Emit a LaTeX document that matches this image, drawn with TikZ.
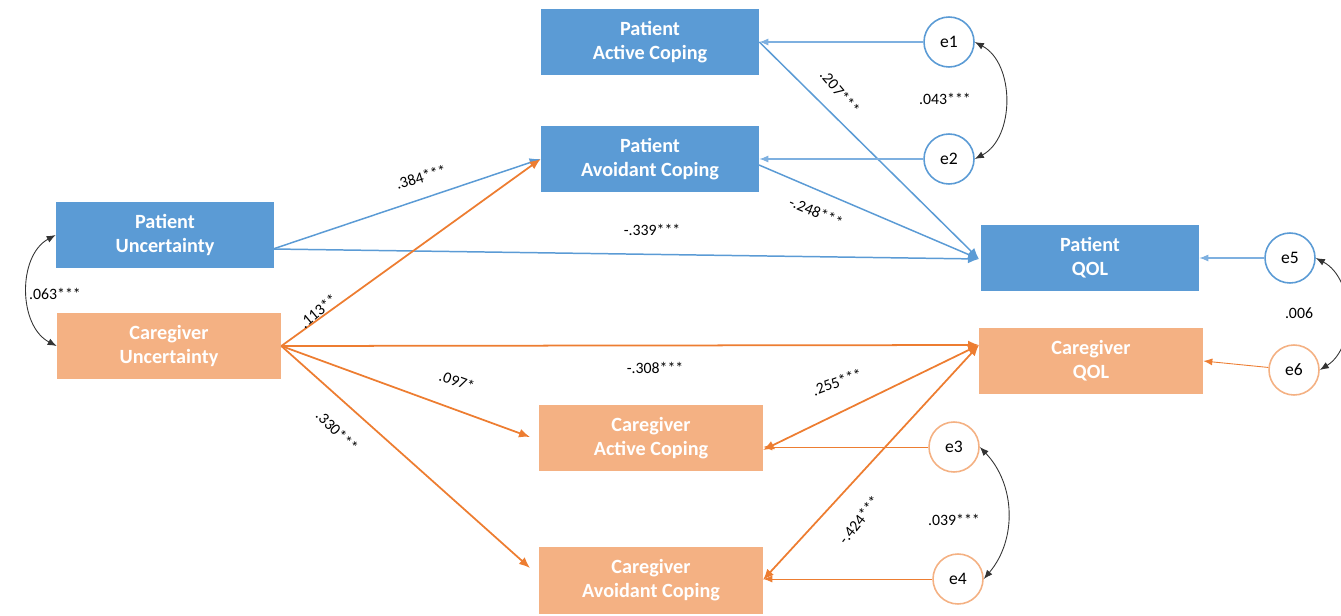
\documentclass[tikz,border=0pt]{standalone}
\usepackage{fontspec}
\setmainfont{Carlito}
\usetikzlibrary{arrows.meta}
\definecolor{pblue}{HTML}{5B9BD5}
\definecolor{pblueL}{HTML}{7EB0E0}
\definecolor{corange}{HTML}{F4B183}
\definecolor{cline}{HTML}{ED7D31}
\tikzset{
  pbox/.style={rectangle, fill=pblue, text=white, font=\fontsize{11.5}{13.6}\selectfont\bfseries, align=center, minimum width=4.36cm, minimum height=1.34cm, inner sep=0pt},
  cbox/.style={pbox, fill=corange},
  perr/.style={circle, draw=pblue, line width=0.9pt, fill=white, minimum size=1cm, inner sep=0pt, font=\fontsize{10}{12}\selectfont},
  cerr/.style={perr, draw=corange},
  bpath/.style={draw=pblue, line width=0.85pt, -{Latex[length=2.2mm,width=1.8mm]}},
  opath/.style={draw=cline, line width=1pt, -{Latex[length=2.2mm,width=1.8mm]}},
  obpath/.style={draw=cline, line width=1pt, {Latex[length=2.2mm,width=1.8mm]}-{Latex[length=2.2mm,width=1.8mm]}},
  berr/.style={draw=pblueL, line width=0.6pt, -{Latex[length=1.8mm,width=1.4mm]}},
  oerr/.style={draw=cline, line width=0.5pt, -{Latex[length=1.8mm,width=1.4mm]}},
  cov/.style={draw=black!80, line width=0.5pt, {Latex[length=1.8mm,width=1.4mm]}-{Latex[length=1.8mm,width=1.4mm]}},
  lab/.style={font=\fontsize{9}{11}\selectfont, inner sep=0pt}
}
\begin{document}
\begin{tikzpicture}[x=0.02cm, y=-0.02cm]
\useasboundingbox (0,0) rectangle (1341,615);
% boxes
\node[pbox] (PAC) at (650,42) {Patient\\Active Coping};
\node[pbox] (PAV) at (650,159) {Patient\\Avoidant Coping};
\node[pbox] (PU) at (165,235) {Patient\\Uncertainty};
\node[cbox, minimum width=4.48cm] (CU) at (169,346) {Caregiver\\Uncertainty};
\node[pbox] (PQ) at (1090,258) {Patient\\QOL};
\node[cbox, minimum width=4.48cm] (CQ) at (1091,361) {Caregiver\\QOL};
\node[cbox, minimum width=4.48cm] (CAC) at (651,438) {Caregiver\\Active Coping};
\node[cbox, minimum width=4.48cm] (CAV) at (651,580) {Caregiver\\Avoidant Coping};
% error terms
\node[perr] (e1) at (949,42) {e1};
\node[perr] (e2) at (949,159) {e2};
\node[perr] (e5) at (1290,258) {e5};
\node[cerr] (e6) at (1294,370) {e6};
\node[cerr] (e3) at (954,447) {e3};
\node[cerr] (e4) at (958,579) {e4};
% anchor coordinates
\coordinate (pus) at (273,249);
\coordinate (pqw) at (979,259);
\coordinate (cqw) at (979,345);
\coordinate (pavs) at (759,165);
\coordinate (cacw) at (530,437);
\coordinate (cavw) at (530,568);
\coordinate (cace) at (763,450);
\coordinate (cave) at (763,580);
% patient paths
\draw[bpath] (pus) -- (PAV.west);
\draw[bpath] (pus) -- (pqw);
\draw[bpath] (PAC.east) -- (pqw);
\draw[bpath] (pavs) -- (pqw);
% caregiver paths
\draw[opath] (CU.east) -- (PAV.west);
\draw[opath] (CU.east) -- (cqw);
\draw[opath] (CU.east) -- (cacw);
\draw[opath] (CU.east) -- (cavw);
\draw[obpath] (cace) -- (cqw);
\draw[obpath] (cave) -- (cqw);
% error arrows
\draw[berr] (e1) -- (PAC.east);
\draw[berr] (e2) -- (PAV.east);
\draw[berr] (e5) -- (PQ.east);
\draw[oerr] (e6) -- (CQ.east);
\draw[oerr] (e3) -- (CAC.east |- e3);
\draw[oerr] (e4) -- (CAV.east |- e4);
% covariances
\draw[cov] (e1.east) to[bend left=62] (e2.east);
\draw[cov] (e3.east) to[bend left=42] (e4.east);
\draw[cov] (e5.east) to[bend left=60] (e6.east);
\draw[cov] (PU.west) to[bend right=62] (CU.west);
% labels
\node[lab, rotate=-50] (l1) at (840,92) {.207***};
\node[lab] (l2) at (945,99) {.043***};
\node[lab, rotate=17] (l3) at (421,177) {.384***};
\node[lab, rotate=-23] (l4) at (816,212) {-.248***};
\node[lab] (l5) at (652,230) {-.339***};
\node[lab] (l6) at (55,294) {.063***};
\node[lab, rotate=40] (l7) at (318,311) {.113**};
\node[lab] (l8) at (1299,313) {.006};
\node[lab] (l9) at (655,368) {-.308***};
\node[lab, rotate=-20] (l10) at (457,381) {.097*};
\node[lab, rotate=20] (l11) at (837,382) {.255***};
\node[lab, rotate=-45] (l12) at (337,431) {.330***};
\node[lab, rotate=52] (l13) at (859,520) {-.424***};
\node[lab] (l14) at (954,520) {.039***};
\end{tikzpicture}
\end{document}
